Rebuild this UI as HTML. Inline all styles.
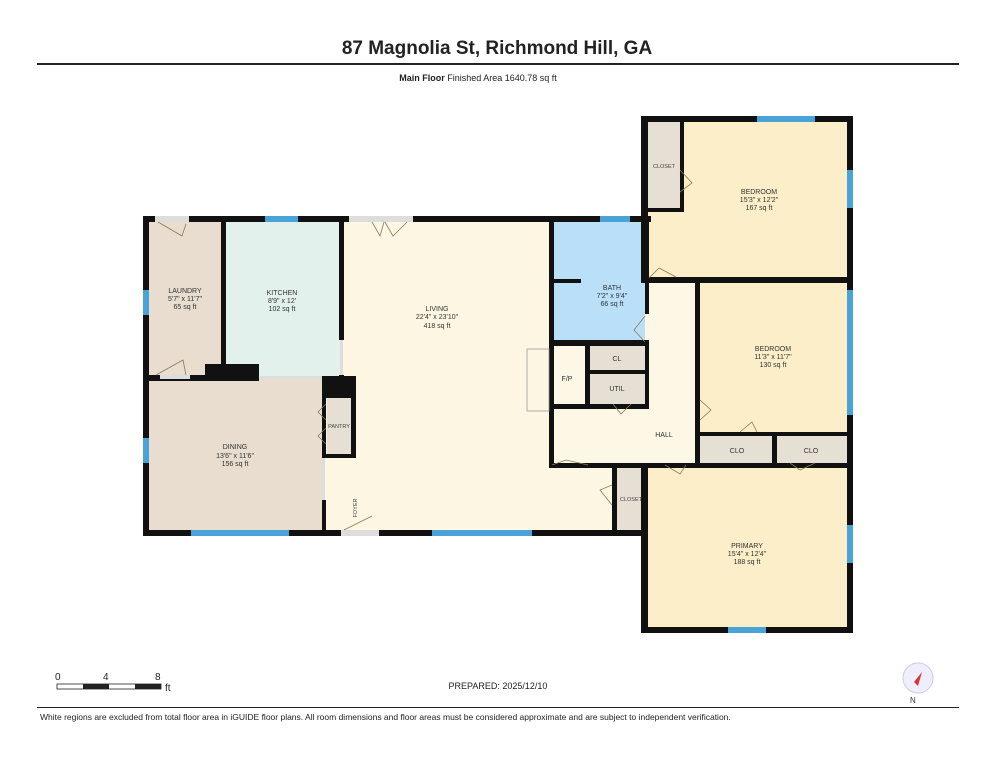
<!DOCTYPE html>
<html><head><style>body{margin:0;background:#fff}svg{display:block}text{font-family:"Liberation Sans",sans-serif}</style></head><body>
<svg width="995" height="768" viewBox="0 0 995 768">
<text x="497" y="54" font-size="19" font-weight="bold" text-anchor="middle" fill="#222">87 Magnolia St, Richmond Hill, GA</text>
<rect x="37" y="63" width="922" height="2" fill="#222"/>
<text x="478" y="81" font-size="9" text-anchor="middle" fill="#222"><tspan font-weight="bold">Main Floor</tspan>   Finished Area 1640.78 sq ft</text>
<rect x="149" y="222" width="74" height="155" fill="#e8ddcf"/>
<rect x="225" y="222" width="116" height="156" fill="#e3f1ec"/>
<rect x="341" y="222" width="210" height="310" fill="#fdf6e2"/>
<rect x="324" y="376" width="20" height="156" fill="#fdf6e2"/>
<rect x="551" y="465" width="64" height="67" fill="#fdf6e2"/>
<rect x="149" y="378" width="175" height="154" fill="#e8ddcf"/>
<rect x="553" y="222" width="92" height="120" fill="#b9dff9"/>
<rect x="645" y="283" width="53" height="182" fill="#fdf7e6"/>
<rect x="553" y="408" width="145" height="57" fill="#fdf7e6"/>
<rect x="645" y="118" width="205" height="160" fill="#fbeec8"/>
<rect x="647" y="120" width="33" height="90" fill="#e6dfd4"/>
<rect x="698" y="283" width="150" height="150" fill="#fbeec8"/>
<rect x="698" y="434" width="76" height="31" fill="#e6dfd4"/>
<rect x="776" y="434" width="72" height="29" fill="#e6dfd4"/>
<rect x="645" y="465" width="205" height="164" fill="#fbeec8"/>
<rect x="615" y="467" width="30" height="65" fill="#e6dfd4"/>
<rect x="553" y="346" width="32" height="62" fill="#fdf7e6"/>
<rect x="590" y="346" width="55" height="24" fill="#e6dfd4"/>
<rect x="590" y="374" width="55" height="30" fill="#e6dfd4"/>
<rect x="327" y="398" width="24" height="56" fill="#e6dfd4"/>
<g fill="#111">
<rect x="143" y="216" width="408" height="6"/>
<rect x="143" y="216" width="6" height="320"/>
<rect x="143" y="530" width="502" height="6"/>
<rect x="545" y="216" width="10" height="6"/>
<rect x="549" y="222" width="5" height="245"/>
<rect x="549" y="463" width="150" height="5"/>
<rect x="221" y="222" width="5" height="155"/>
<rect x="339" y="222" width="5" height="118"/>
<rect x="339" y="375" width="5" height="8"/>
<rect x="149" y="375" width="110" height="6"/>
<rect x="205" y="364" width="54" height="17"/>
<rect x="322" y="376" width="34" height="22"/>
<rect x="322" y="376" width="4" height="80"/>
<rect x="351" y="376" width="5" height="80"/>
<rect x="322" y="454" width="34" height="4"/>
<rect x="322" y="500" width="4" height="30"/>
<rect x="551" y="216" width="100" height="6"/>
<rect x="553" y="279" width="28" height="4"/>
<rect x="645" y="222" width="4" height="92"/>
<rect x="553" y="340" width="96" height="6"/>
<rect x="585" y="346" width="5" height="62"/>
<rect x="553" y="404" width="96" height="5"/>
<rect x="590" y="370" width="55" height="4"/>
<rect x="645" y="346" width="4" height="62"/>
<rect x="641" y="116" width="212" height="6"/>
<rect x="641" y="116" width="7" height="167"/>
<rect x="847" y="116" width="6" height="517"/>
<rect x="641" y="277" width="212" height="6"/>
<rect x="680" y="122" width="4" height="90"/>
<rect x="647" y="208" width="37" height="4"/>
<rect x="695" y="283" width="5" height="185"/>
<rect x="695" y="432" width="158" height="4"/>
<rect x="772" y="432" width="5" height="35"/>
<rect x="695" y="463" width="158" height="5"/>
<rect x="641" y="465" width="7" height="168"/>
<rect x="612" y="465" width="5" height="70"/>
<rect x="641" y="627" width="212" height="6"/>
</g>
<g fill="#4aa3d6">
<rect x="265" y="216" width="33" height="6"/><rect x="143" y="290" width="6" height="25"/><rect x="143" y="438" width="6" height="25"/>
<rect x="191" y="530" width="98" height="6"/><rect x="432" y="530" width="100" height="6"/>
<rect x="600" y="216" width="30" height="6"/><rect x="757" y="116" width="58" height="6"/>
<rect x="847" y="170" width="6" height="38"/><rect x="847" y="290" width="6" height="125"/>
<rect x="847" y="525" width="6" height="38"/><rect x="728" y="627" width="38" height="6"/>
</g>
<g fill="#ddd"><rect x="155" y="216" width="34" height="6"/><rect x="349" y="216" width="64" height="6"/><rect x="341" y="530" width="38" height="6"/><rect x="160" y="375" width="30" height="4"/><rect x="260" y="376" width="62" height="3"/><rect x="340" y="340" width="3" height="35"/><rect x="322" y="458" width="3" height="42"/></g>
<g fill="none" stroke="#8a7a50" stroke-width="0.8">
<path d="M158 222 L182 236 L186 224"/><path d="M156 375 L183 360 L186 375"/><path d="M372 222 L380 236 L384 222 M385 222 L393 236 L407 222"/>
<path d="M344 530 L372 516 M645 316 L634 330 L645 342 M676 277 L659 268 L649 278 M588 465 L566 460 L552 465 M700 400 L711 410 L700 420 M612 485 L600 490 L612 505 M665 465 L680 474 L686 465 M613 404 L621 414 L631 404 M740 432 L752 422 L757 432 M790 463 L800 470 L815 463 M680 170 L692 183 L680 192 M326 404 L318 412 L326 420 M326 428 L318 436 L326 444"/>
</g>
<rect x="527" y="349" width="22" height="62" fill="none" stroke="#999" stroke-width="0.8"/>
<g font-size="7" fill="#333" text-anchor="middle">
<text x="185" y="293">LAUNDRY</text><text x="185" y="301">5'7" x 11'7"</text><text x="185" y="309">65 sq ft</text>
<text x="282" y="295">KITCHEN</text><text x="282" y="303">8'9" x 12'</text><text x="282" y="311">102 sq ft</text>
<text x="437" y="311">LIVING</text><text x="437" y="319">22'4" x 23'10"</text><text x="437" y="328">418 sq ft</text>
<text x="235" y="449">DINING</text><text x="235" y="458">13'6" x 11'6"</text><text x="235" y="466">156 sq ft</text>
<text x="612" y="290">BATH</text><text x="612" y="298">7'2" x 9'4"</text><text x="612" y="306">66 sq ft</text>
<text x="759" y="194">BEDROOM</text><text x="759" y="202">15'3" x 12'2"</text><text x="759" y="210">167 sq ft</text>
<text x="773" y="351">BEDROOM</text><text x="773" y="359">11'3" x 11'7"</text><text x="773" y="367">130 sq ft</text>
<text x="747" y="548">PRIMARY</text><text x="747" y="556">15'4" x 12'4"</text><text x="747" y="564">188 sq ft</text>
<text x="664" y="437">HALL</text><text x="617" y="361">CL</text><text x="617" y="391">UTIL</text><text x="567" y="381">F/P</text>
<text x="737" y="453">CLO</text><text x="811" y="453">CLO</text>
</g>
<g font-size="5.5" fill="#444" text-anchor="middle"><text x="664" y="168">CLOSET</text><text x="631" y="501">CLOSET</text><text x="339" y="428">PANTRY</text>
<text x="357" y="508" transform="rotate(-90 357 508)">FOYER</text></g>
<g font-size="10" fill="#222"><text x="55" y="680">0</text><text x="103" y="680">4</text><text x="155" y="680">8</text><text x="165" y="691">ft</text></g>
<rect x="57" y="684" width="104" height="5" fill="#fff" stroke="#222" stroke-width="0.8"/>
<rect x="83" y="684" width="26" height="5" fill="#222"/><rect x="135" y="684" width="26" height="5" fill="#222"/>
<text x="498" y="689" font-size="9" text-anchor="middle" fill="#222">PREPARED: 2025/12/10</text>
<circle cx="918" cy="678" r="15" fill="#eef" stroke="#ccd"/><path d="M914 682 L922 672 L918 686 Z" fill="#d33"/><text x="910" y="703" font-size="8" fill="#333">N</text>
<rect x="37" y="707" width="922" height="1" fill="#222"/>
<text x="40" y="720" font-size="8.5" fill="#222">White regions are excluded from total floor area in iGUIDE floor plans. All room dimensions and floor areas must be considered approximate and are subject to independent verification.</text>
</svg>
</body></html>
